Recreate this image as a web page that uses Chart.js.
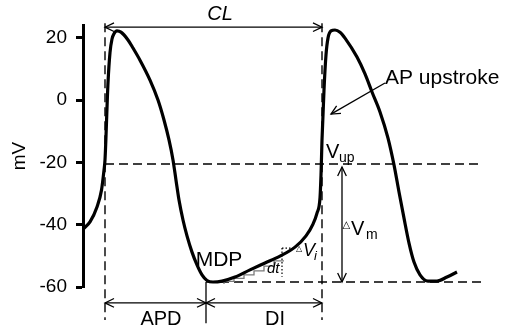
<!DOCTYPE html>
<html>
<head>
<meta charset="UTF-8">
<title>AP trace</title>
<script src="https://cdn.jsdelivr.net/npm/chart.js"></script>
<style>
  body { margin: 0; background: white; }
  canvas { display: block; }
</style>
</head>
<body>
<canvas id="apChart" width="510" height="333"></canvas>
<script>
// membrane potential trace (time in arbitrary units, mV)
const apTime = [0, 7, 14, 18.5, 21, 22, 25, 27, 29, 31, 34, 38, 45, 50, 57, 67, 75, 81, 86, 90, 93, 96, 100, 104, 109, 114, 119, 124, 130, 139,
  152, 167, 182, 197, 212, 223, 230, 234, 237, 238, 239, 241, 243, 245, 248, 252, 257,
  262, 274, 282, 289, 297, 305, 311, 316, 321, 326, 331, 337, 345, 354, 364, 374];
const apVolt = [-41.4, -39.1, -34.3, -28.9, -22.5, -19.2, 5.5, 15.2, 19.6, 21.3, 22.2, 21.8, 19.3, 16.7, 12.8, 6.4, 0.0, -6.4, -12.8, -19.2, -25.7, -32.1, -38.5, -43.6, -48.8, -52.9, -56.1, -57.9, -58.4, -58.1,
  -56.8, -54.5, -52.3, -50.1, -47.2, -43.6, -39.8, -36.3, -31.4, -24.1, -12.8, 3.2, 14.5, 19.9, 22.2, 22.5, 21.8,
  19.9, 13.8, 8.4, 2.6, -3.8, -12.2, -20.8, -29.5, -37.9, -45.9, -52.0, -56.1, -58.1, -58.1, -56.8, -55.2];

// staircase approximating the diastolic slope
const stepTime = [141, 151, 161, 171, 181, 191, 200, 201];
const stepVolt = [-59.0, -58.2, -57.2, -56.1, -54.8, -53.3, -51.6, -51.6];

const yTicks = [20, 0, -20, -40, -60];

// key markers
const tUpstroke1 = 22;   // start of AP
const tMdp = 123;        // time of MDP
const tUpstroke2 = 239;  // next upstroke
const mdp = -58.4;
const vUp = -20.5;
const tRight = 400;
const topLine = 23.4;
const dashTop = 24.7;
const dashBottom = -70.6;
const bottomArrow = -65.1;
const tickBottom = -71.6;
const tDeltaVm = 259;
const vmTop = -21.5;
const pointerFrom = [302, 5.5];
const pointerTo = [248, -4.5];
const dtX = 199;
const dtTop = -47.5;
const dtBottom = -56.7;
const dvEnd = 211;

const labels = [
  { text: 'CL', t: 137, v: 27.6, font: 'italic 20px "Liberation Sans"', align: 'center', base: 'middle' },
  { text: 'APD', t: 78, v: -70.3, font: '20px "Liberation Sans"', align: 'center', base: 'middle' },
  { text: 'DI', t: 192, v: -70.3, font: '20px "Liberation Sans"', align: 'center', base: 'middle' },
  { text: 'MDP', t: 136, v: -51.3, font: '21px "Liberation Sans"', align: 'center', base: 'middle' },
  { text: 'V', t: 243, v: -18.6, font: '20px "Liberation Sans"', align: 'left', base: 'alphabetic' },
  { text: 'up', t: 256, v: -19.9, font: '14px "Liberation Sans"', align: 'left', base: 'alphabetic' },
  { text: '\u25B3', t: 259.5, v: -41.1, font: '10px "DejaVu Sans"', align: 'left', base: 'alphabetic' },
  { text: 'V', t: 268, v: -43.3, font: '20px "Liberation Sans"', align: 'left', base: 'alphabetic' },
  { text: 'm', t: 283, v: -44.6, font: '14px "Liberation Sans"', align: 'left', base: 'alphabetic' },
  { text: '\u25B3', t: 213, v: -48.4, font: '8px "DejaVu Sans"', align: 'left', base: 'alphabetic' },
  { text: 'V', t: 220, v: -50.1, font: 'italic 18px "Liberation Sans"', align: 'left', base: 'alphabetic' },
  { text: 'i', t: 231, v: -51.3, font: 'italic 13px "Liberation Sans"', align: 'left', base: 'alphabetic' },
  { text: 'dt', t: 184, v: -55.5, font: 'italic 15px "Liberation Sans"', align: 'left', base: 'alphabetic' },
  { text: 'AP upstroke', t: 302, v: 7.1, font: '21px "Liberation Sans"', align: 'left', base: 'middle' }
];

function seg(x1, y1, x2, y2) { return [{ x: x1, y: y1 }, { x: x2, y: y2 }]; }

const thin = { borderColor: '#000', borderWidth: 1.3, pointRadius: 0, clip: false, fill: false };
const dashed = { ...thin, borderWidth: 1.4, borderDash: [9, 5] };

function drawHead(ctx, tip, from) {
  const a = Math.atan2(tip.y - from.y, tip.x - from.x);
  const len = 10, spread = 0.45;
  ctx.beginPath();
  ctx.moveTo(tip.x - len * Math.cos(a - spread), tip.y - len * Math.sin(a - spread));
  ctx.lineTo(tip.x, tip.y);
  ctx.lineTo(tip.x - len * Math.cos(a + spread), tip.y - len * Math.sin(a + spread));
  ctx.stroke();
}

const annotate = {
  id: 'annotate',
  afterDatasetsDraw(chart) {
    const ctx = chart.ctx;
    ctx.save();
    ctx.strokeStyle = '#000';
    ctx.lineWidth = 1.3;
    chart.data.datasets.forEach((ds, i) => {
      if (!ds.heads) return;
      const pts = chart.getDatasetMeta(i).data;
      const first = pts[0], last = pts[pts.length - 1];
      if (ds.heads.includes('start')) drawHead(ctx, first, last);
      if (ds.heads.includes('end')) drawHead(ctx, last, first);
    });
    const xs = chart.scales.x, ys = chart.scales.y;
    ctx.fillStyle = '#000';
    labels.forEach(l => {
      ctx.font = l.font;
      ctx.textAlign = l.align;
      ctx.textBaseline = l.base;
      ctx.fillText(l.text, xs.getPixelForValue(l.t), ys.getPixelForValue(l.v));
    });
    ctx.restore();
  }
};

new Chart(document.getElementById('apChart'), {
  type: 'line',
  data: {
    datasets: [
      {
        data: apTime.map((t, i) => ({ x: t, y: apVolt[i] })),
        borderColor: '#000', borderWidth: 3.2, pointRadius: 0,
        cubicInterpolationMode: 'monotone', clip: false, fill: false
      },
      {
        data: stepTime.map((t, i) => ({ x: t, y: stepVolt[i] })),
        borderColor: '#7a7a7a', borderWidth: 1.3, pointRadius: 0, stepped: 'after', clip: false
      },
      { ...dashed, data: seg(tUpstroke1, dashTop, tUpstroke1, dashBottom) },
      { ...dashed, data: seg(tUpstroke2, dashTop, tUpstroke2, dashBottom) },
      { ...dashed, data: seg(tUpstroke1, vUp, tRight, vUp) },
      { ...dashed, data: seg(tMdp, mdp, tRight, mdp) },
      { ...thin, data: seg(tUpstroke1, topLine, tUpstroke2, topLine), heads: ['start', 'end'] },
      { ...thin, data: seg(tUpstroke1, bottomArrow, tMdp, bottomArrow), heads: ['start', 'end'] },
      { ...thin, data: seg(tMdp, bottomArrow, tUpstroke2, bottomArrow), heads: ['start', 'end'] },
      { ...thin, data: seg(tMdp, mdp, tMdp, tickBottom) },
      { ...thin, data: seg(tDeltaVm, vmTop, tDeltaVm, mdp), heads: ['start', 'end'] },
      { ...thin, data: seg(pointerFrom[0], pointerFrom[1], pointerTo[0], pointerTo[1]), heads: ['end'] },
      { ...thin, borderWidth: 1.2, borderDash: [1.5, 2], data: seg(dtX, dtTop, dtX, dtBottom) },
      { ...thin, borderWidth: 1.2, borderDash: [1.5, 2], data: seg(dtX, dtTop, dvEnd, dtTop) }
    ]
  },
  options: {
    responsive: false,
    animation: false,
    events: [],
    layout: { padding: { top: 25, bottom: 46, left: 0, right: 0 } },
    plugins: { legend: { display: false }, tooltip: { enabled: false } },
    scales: {
      x: { type: 'linear', display: false, min: 0, max: 427 },
      y: {
        type: 'linear',
        min: -60,
        max: 24.1,
        afterFit: s => { s.width = 83; },
        afterBuildTicks: s => { s.ticks = yTicks.map(v => ({ value: v })); },
        border: { display: true, width: 3, color: '#000' },
        grid: { drawOnChartArea: false, drawTicks: true, tickLength: 7, tickWidth: 3, tickColor: '#000' },
        ticks: { color: '#000', padding: 9, font: { family: 'Liberation Sans', size: 19 } },
        title: {
          display: true, text: 'mV', color: '#000',
          font: { family: 'Liberation Sans', size: 19 },
          padding: { top: 8, bottom: 0 }
        }
      }
    }
  },
  plugins: [annotate]
});
</script>
</body>
</html>
